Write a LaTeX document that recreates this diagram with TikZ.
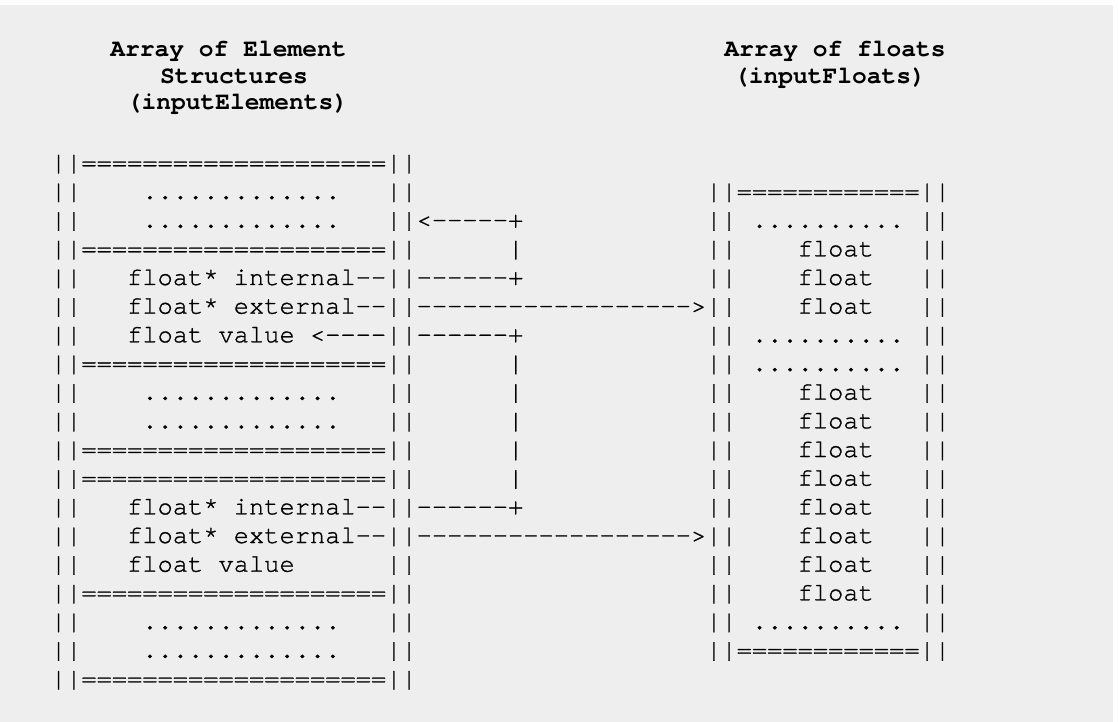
\documentclass[tikz,border=0pt]{standalone}
\usepackage{fontspec}
\setmonofont{TeX Gyre Cursor}[Kerning=Off, Ligatures=NoCommon, UprightFeatures={FakeBold=1}]
\usetikzlibrary{positioning}
\definecolor{pagegrey}{HTML}{EEEEEE}
\newcommand{\asciifont}{\ttfamily\fontsize{25.4}{28}\selectfont}
\newcommand{\headfont}{\ttfamily\bfseries\fontsize{24.6}{27}\selectfont}

\begin{document}
\begin{tikzpicture}[x=1pt, y=-1pt, node distance=28.67pt,
  asciirow/.style={font=\asciifont, inner sep=0pt, anchor=base west},
  heading/.style={font=\headfont, inner sep=0pt, anchor=base}]
\useasboundingbox (0,0) rectangle (1118,722);
\fill[white] (0,0) rectangle (1118,722);
\fill[pagegrey] (0,5) rectangle (1113,722);

% headings
\node[heading] (h1) at (228.5,56.5) {Array of Element};
\node[heading] (h2) at (234,83.2) {Structures};
\node[heading] (h3) at (237.5,110) {(inputElements)};
\node[heading] (h4) at (835,56.5) {Array of floats};
\node[heading] (h5) at (830,83.2) {(inputFloats)};

% the two arrays, one text row at a time
\node[asciirow] (r1) at (50.7,170.3) {||====================||};
\node[below=of r1.base west, asciirow] (r2) {||~~~~.............~~~||~~~~~~~~~~~~~~~~~~~||============||};
\node[below=of r2.base west, asciirow] (r3) {||~~~~.............~~~||<-----+~~~~~~~~~~~~||~..........~||};
\node[below=of r3.base west, asciirow] (r4) {||====================||~~~~~~|~~~~~~~~~~~~||~~~~float~~~||};
\node[below=of r4.base west, asciirow] (r5) {||~~~float*~internal--||------+~~~~~~~~~~~~||~~~~float~~~||};
\node[below=of r5.base west, asciirow] (r6) {||~~~float*~external--||------------------>||~~~~float~~~||};
\node[below=of r6.base west, asciirow] (r7) {||~~~float~value~<----||------+~~~~~~~~~~~~||~..........~||};
\node[below=of r7.base west, asciirow] (r8) {||====================||~~~~~~|~~~~~~~~~~~~||~..........~||};
\node[below=of r8.base west, asciirow] (r9) {||~~~~.............~~~||~~~~~~|~~~~~~~~~~~~||~~~~float~~~||};
\node[below=of r9.base west, asciirow] (r10) {||~~~~.............~~~||~~~~~~|~~~~~~~~~~~~||~~~~float~~~||};
\node[below=of r10.base west, asciirow] (r11) {||====================||~~~~~~|~~~~~~~~~~~~||~~~~float~~~||};
\node[below=of r11.base west, asciirow] (r12) {||====================||~~~~~~|~~~~~~~~~~~~||~~~~float~~~||};
\node[below=of r12.base west, asciirow] (r13) {||~~~float*~internal--||------+~~~~~~~~~~~~||~~~~float~~~||};
\node[below=of r13.base west, asciirow] (r14) {||~~~float*~external--||------------------>||~~~~float~~~||};
\node[below=of r14.base west, asciirow] (r15) {||~~~float~value~~~~~~||~~~~~~~~~~~~~~~~~~~||~~~~float~~~||};
\node[below=of r15.base west, asciirow] (r16) {||====================||~~~~~~~~~~~~~~~~~~~||~~~~float~~~||};
\node[below=of r16.base west, asciirow] (r17) {||~~~~.............~~~||~~~~~~~~~~~~~~~~~~~||~..........~||};
\node[below=of r17.base west, asciirow] (r18) {||~~~~.............~~~||~~~~~~~~~~~~~~~~~~~||============||};
\node[below=of r18.base west, asciirow] (r19) {||====================||};
\end{tikzpicture}
\end{document}
